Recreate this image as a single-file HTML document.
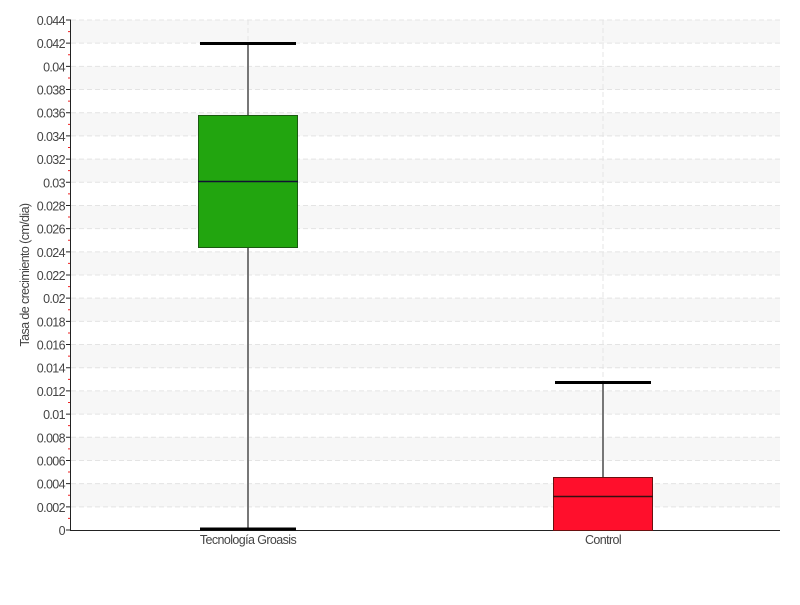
<!DOCTYPE html>
<html><head><meta charset="utf-8"><style>body{margin:0;background:#fff}</style></head><body>
<svg width="800" height="600" xmlns="http://www.w3.org/2000/svg" font-family="'Liberation Sans',sans-serif" font-size="12.5" fill="#444" letter-spacing="-0.6">
<g fill="#f7f7f7">
<rect x="71" y="483.64" width="709" height="23.18"/>
<rect x="71" y="437.27" width="709" height="23.18"/>
<rect x="71" y="390.91" width="709" height="23.18"/>
<rect x="71" y="344.55" width="709" height="23.18"/>
<rect x="71" y="298.18" width="709" height="23.18"/>
<rect x="71" y="251.82" width="709" height="23.18"/>
<rect x="71" y="205.45" width="709" height="23.18"/>
<rect x="71" y="159.09" width="709" height="23.18"/>
<rect x="71" y="112.73" width="709" height="23.18"/>
<rect x="71" y="66.36" width="709" height="23.18"/>
<rect x="71" y="20" width="709" height="23.18"/>
</g>
<path stroke="#e4e4e4" stroke-dasharray="5,3" fill="none" d="M71 506.82H780M71 483.64H780M71 460.45H780M71 437.27H780M71 414.09H780M71 390.91H780M71 367.73H780M71 344.55H780M71 321.36H780M71 298.18H780M71 275H780M71 251.82H780M71 228.64H780M71 205.45H780M71 182.27H780M71 159.09H780M71 135.91H780M71 112.73H780M71 89.55H780M71 66.36H780M71 43.18H780M71 20H780M248 20V530M603 20V530"/>
<path stroke="#222" fill="none" d="M66 530H71M66 506.82H71M66 483.64H71M66 460.45H71M66 437.27H71M66 414.09H71M66 390.91H71M66 367.73H71M66 344.55H71M66 321.36H71M66 298.18H71M66 275H71M66 251.82H71M66 228.64H71M66 205.45H71M66 182.27H71M66 159.09H71M66 135.91H71M66 112.73H71M66 89.55H71M66 66.36H71M66 43.18H71M66 20H71"/>
<path stroke="#e22" fill="none" d="M68 518.41H71M68 495.23H71M68 472.05H71M68 448.86H71M68 425.68H71M68 402.5H71M68 379.32H71M68 356.14H71M68 332.95H71M68 309.77H71M68 286.59H71M68 263.41H71M68 240.23H71M68 217.05H71M68 193.86H71M68 170.68H71M68 147.5H71M68 124.32H71M68 101.14H71M68 77.95H71M68 54.77H71M68 31.59H71"/>
<g text-anchor="end">
<text x="65" y="535">0</text>
<text x="65" y="511.8">0.002</text>
<text x="65" y="488.6">0.004</text>
<text x="65" y="465.5">0.006</text>
<text x="65" y="442.3">0.008</text>
<text x="65" y="419.1">0.01</text>
<text x="65" y="395.9">0.012</text>
<text x="65" y="372.7">0.014</text>
<text x="65" y="349.5">0.016</text>
<text x="65" y="326.4">0.018</text>
<text x="65" y="303.2">0.02</text>
<text x="65" y="280">0.022</text>
<text x="65" y="256.8">0.024</text>
<text x="65" y="233.6">0.026</text>
<text x="65" y="210.5">0.028</text>
<text x="65" y="187.3">0.03</text>
<text x="65" y="164.1">0.032</text>
<text x="65" y="140.9">0.034</text>
<text x="65" y="117.7">0.036</text>
<text x="65" y="94.5">0.038</text>
<text x="65" y="71.4">0.04</text>
<text x="65" y="48.2">0.042</text>
<text x="65" y="25">0.044</text>
</g>
<line x1="70.5" x2="70.5" y1="20" y2="531" stroke="#222"/>
<line x1="70" x2="780" y1="530.5" y2="530.5" stroke="#222"/>
<line x1="248" x2="248" y1="43" y2="529" stroke="#777" stroke-width="2"/>
<rect x="198.5" y="115.5" width="99" height="132" fill="#22a50f" stroke="#1a5a10"/>
<line x1="198" x2="298" y1="181.5" y2="181.5" stroke="#113" stroke-width="1.5"/>
<line x1="200" x2="296" y1="43.5" y2="43.5" stroke="#000" stroke-width="3"/>
<line x1="200" x2="296" y1="529" y2="529" stroke="#000" stroke-width="3"/>
<line x1="603" x2="603" y1="382" y2="477" stroke="#777" stroke-width="2"/>
<rect x="553.5" y="477.5" width="99" height="53" fill="#ff0f2c" stroke="#6a1010"/>
<line x1="553" x2="653" y1="496.5" y2="496.5" stroke="#311" stroke-width="1.5"/>
<line x1="555" x2="651" y1="382.5" y2="382.5" stroke="#000" stroke-width="3"/>
<text x="248" y="544" text-anchor="middle">Tecnología Groasis</text>
<text x="603" y="544" text-anchor="middle">Control</text>
<text transform="translate(29,275) rotate(-90)" text-anchor="middle">Tasa de crecimiento (cm/dia)</text>
</svg>
</body></html>
